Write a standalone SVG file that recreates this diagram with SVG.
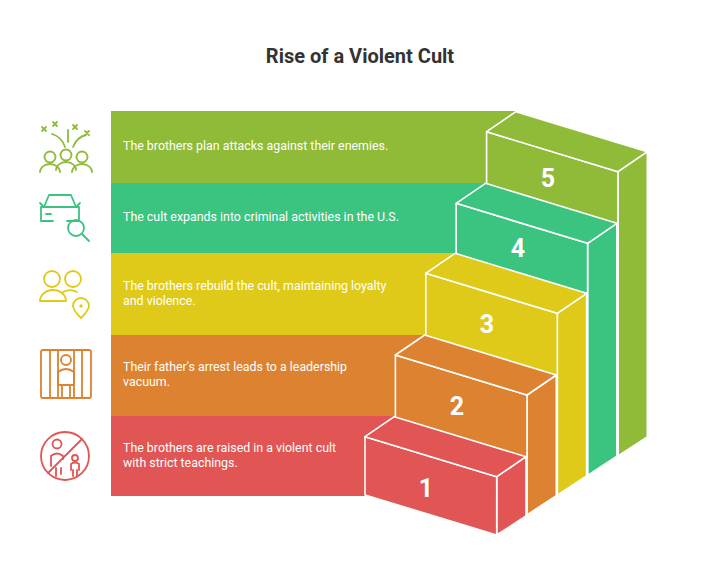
<svg xmlns="http://www.w3.org/2000/svg" width="720" height="578" viewBox="0 0 720 578">
<style>
.t{font-family:Roboto,"Liberation Sans",sans-serif;font-size:12.4px;fill:#fff}
.n{font-family:Roboto,"Liberation Sans",sans-serif;font-size:25px;font-weight:bold;fill:#fff;text-anchor:middle}
.s{stroke:#fff;stroke-width:1.6;stroke-linejoin:round}
.i{fill:none;stroke-width:1.8;stroke-linecap:round;stroke-linejoin:round}
</style>
<rect width="720" height="578" fill="#fff"/>
<text x="360" y="63" text-anchor="middle" font-family="Roboto,'Liberation Sans',sans-serif" font-size="20" font-weight="bold" fill="#333">Rise of a Violent Cult</text>

<g id="bands">
<polygon points="111,111 516,111 486.6,131.7 486.6,183 111,183" fill="#8fbb38"/>
<polygon points="111,183 485.5,183 456.2,203.3 456.2,253 111,253" fill="#3bc47f"/>
<polygon points="111,253 455.1,253 425.8,273.3 425.8,335 111,335" fill="#dfca19"/>
<polygon points="111,335 424.7,335 395.4,355 395.4,416 111,416" fill="#dd8230"/>
<polygon points="111,416 394.3,416 365,436.7 365,496 111,496" fill="#e15554"/>
</g>

<g id="step5" fill="#8fbb38">
<polygon class="s" points="618,171.7 647.3,151.7 647.3,436.8 618,455.9"/>
<polygon class="s" points="486.6,131.7 618,171.7 618,455.9 486.6,415.8"/>
<polygon class="s" points="486.6,131.7 618,171.7 647.3,151.7 515.9,111.7"/>
<text class="n" x="548" y="187">5</text>
</g>
<g id="step4" fill="#3bc47f">
<polygon class="s" points="587.6,243.3 616.9,223.3 616.9,456.1 587.6,475.3"/>
<polygon class="s" points="456.2,203.3 587.6,243.3 587.6,475.3 456.2,435.2"/>
<polygon class="s" points="456.2,203.3 587.6,243.3 616.9,223.3 485.5,183.3"/>
<text class="n" x="518" y="257">4</text>
</g>
<g id="step3" fill="#dfca19">
<polygon class="s" points="557.3,313.3 586.6,293.3 586.6,475.9 557.3,495.1"/>
<polygon class="s" points="425.8,273.3 557.3,313.3 557.3,495.1 425.8,455"/>
<polygon class="s" points="425.8,273.3 557.3,313.3 586.6,293.3 455.1,253.3"/>
<text class="n" x="487" y="333">3</text>
</g>
<g id="step2" fill="#dd8230">
<polygon class="s" points="527,395 556.3,375 556.3,495.7 527,514.8"/>
<polygon class="s" points="395.4,355 527,395 527,514.8 395.4,474.7"/>
<polygon class="s" points="395.4,355 527,395 556.3,375 424.7,335"/>
<text class="n" x="457" y="415">2</text>
</g>
<g id="step1" fill="#e15554">
<polygon class="s" points="496.7,476.7 526,456.7 526,515.9 496.7,535"/>
<polygon class="s" points="365,436.7 496.7,476.7 496.7,535 365,495"/>
<polygon class="s" points="365,436.7 496.7,476.7 526,456.7 394.3,416.7"/>
<text class="n" x="426" y="497">1</text>
</g>

<g id="labels">
<text class="t" x="123" y="150">The brothers plan attacks against their enemies.</text>
<text class="t" x="123" y="221">The cult expands into criminal activities in the U.S.</text>
<text class="t" x="123" y="290">The brothers rebuild the cult, maintaining loyalty</text>
<text class="t" x="123" y="305">and violence.</text>
<text class="t" x="123" y="371">Their father's arrest leads to a leadership</text>
<text class="t" x="123" y="386">vacuum.</text>
<text class="t" x="123" y="452">The brothers are raised in a violent cult</text>
<text class="t" x="123" y="467">with strict teachings.</text>
</g>

<g id="icon5" class="i" stroke="#8fbb38">
<circle cx="50" cy="157" r="5.5"/><circle cx="66" cy="155" r="5.5"/><circle cx="82" cy="157" r="5.5"/>
<path d="M40,172 a10,8 0 0 1 20,0 M56,170 a10,8 0 0 1 20,0 M72,172 a10,8 0 0 1 20,0"/>
<path d="M52,134 q10,3 13,13 M68,130 v12 M86,135 q-9,2 -13,12"/>
<path d="M42,127 l4,4 M46,127 l-4,4 M53,122 l4,4 M57,122 l-4,4 M73,125 l4,4 M77,125 l-4,4 M85,131 l4,4 M89,131 l-4,4"/>
</g>
<g id="icon4" class="i" stroke="#3bc47f">
<path d="M44,207 l5,-12 h22 l5,12 h3 v14 h-12 M53,221 h-12 v-14 h3 M44,207 h32"/>
<path d="M40,203 l4,4 M80,203 l-4,4 M46,214 h5"/>
<circle cx="76" cy="228" r="8"/><path d="M82,234 l7,7"/>
</g>
<g id="icon3" class="i" stroke="#dfca19">
<circle cx="52" cy="279" r="8"/><circle cx="73" cy="279" r="8"/>
<path d="M40,301 a13,11 0 0 1 26,0 z M63,292 a12,9 0 0 1 14,0"/>
<path d="M81,318 c-6,-6 -8,-9 -8,-12 a8,8 0 0 1 16,0 c0,3 -2,6 -8,12 z"/><circle cx="81" cy="306" r="0.8"/>
</g>
<g id="icon2" class="i" stroke="#dd8230">
<rect x="41" y="350" width="50" height="48" rx="2"/>
<path d="M50,350 v48 M58,350 v48 M74,350 v48 M82,350 v48"/>
<circle cx="66" cy="360" r="5"/><path d="M58,385 v-13 q8,-6 16,0 v13 z M62,385 v13 M70,385 v13"/>
</g>
<g id="icon1" class="i" stroke="#e15554">
<circle cx="65" cy="456" r="24"/><path d="M48,473 l34,-34"/>
<circle cx="57" cy="444" r="4.5"/><path d="M51,466 v-10 q6,-5 12,0 v3"/>
<circle cx="75" cy="458" r="3"/><path d="M71,470 v-6 q4,-3 8,0 v6 M73,470 v6 M77,470 v6 M56,468 v8 M61,468 v6"/>
</g>
</svg>
